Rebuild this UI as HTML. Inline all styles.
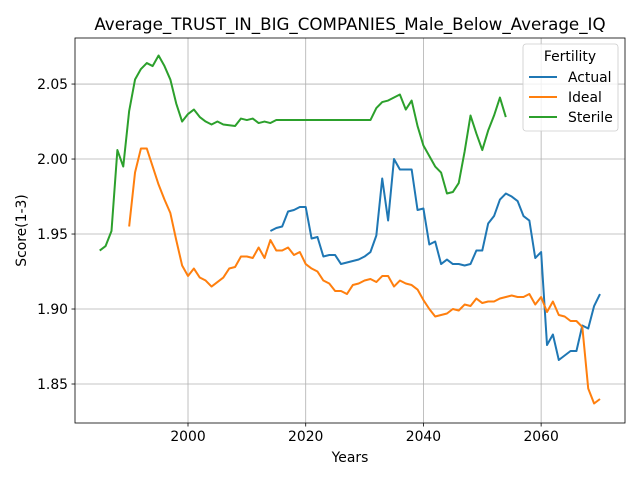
<!DOCTYPE html>
<html><head><meta charset="utf-8"><style>
body{margin:0;background:#fff;font-family:"DejaVu Sans",sans-serif}
svg text{font-family:"DejaVu Sans","Liberation Sans",sans-serif}
</style></head><body>
<svg id="chart" width="640" height="480" xmlns="http://www.w3.org/2000/svg"></svg>
<script>
const actualYears=[2014,2015,2016,2017,2018,2019,2020,2021,2022,2023,2024,2025,2026,2027,2028,2029,2030,2031,2032,2033,2034,2035,2036,2037,2038,2039,2040,2041,2042,2043,2044,2045,2046,2047,2048,2049,2050,2051,2052,2053,2054,2055,2056,2057,2058,2059,2060,2061,2062,2063,2064,2065,2066,2067,2068,2069,2070];
const actualValues=[1.952,1.954,1.955,1.965,1.966,1.968,1.968,1.947,1.948,1.935,1.936,1.936,1.930,1.931,1.932,1.933,1.935,1.938,1.949,1.987,1.959,2.000,1.993,1.993,1.993,1.966,1.967,1.943,1.945,1.930,1.933,1.930,1.930,1.929,1.930,1.939,1.939,1.957,1.962,1.973,1.977,1.975,1.972,1.962,1.959,1.934,1.938,1.876,1.883,1.866,1.869,1.872,1.872,1.889,1.887,1.902,1.910];
const idealStart=1990;
const idealValues=[1.955,1.991,2.007,2.007,1.995,1.983,1.973,1.964,1.946,1.929,1.922,1.927,1.921,1.919,1.915,1.918,1.921,1.927,1.928,1.935,1.935,1.934,1.941,1.934,1.946,1.939,1.939,1.941,1.936,1.938,1.930,1.927,1.925,1.919,1.917,1.912,1.912,1.910,1.916,1.917,1.919,1.920,1.918,1.922,1.922,1.915,1.919,1.917,1.916,1.913,1.906,1.900,1.895,1.896,1.897,1.900,1.899,1.903,1.902,1.907,1.904,1.905,1.905,1.907,1.908,1.909,1.908,1.908,1.910,1.903,1.908,1.898,1.905,1.896,1.895,1.892,1.892,1.888,1.847,1.837,1.840];
const sterileStart=1985;
const sterileValues=[1.939,1.942,1.952,2.006,1.995,2.032,2.053,2.060,2.064,2.062,2.069,2.062,2.053,2.037,2.025,2.030,2.033,2.028,2.025,2.023,2.025,2.023,2.0225,2.022,2.027,2.026,2.027,2.024,2.025,2.024,2.026,2.026,2.026,2.026,2.026,2.026,2.026,2.026,2.026,2.026,2.026,2.026,2.026,2.026,2.026,2.026,2.026,2.034,2.038,2.039,2.041,2.043,2.033,2.039,2.022,2.009,2.002,1.995,1.991,1.977,1.978,1.984,2.005,2.029,2.017,2.006,2.019,2.029,2.041,2.028];
const xTicks=[2000,2020,2040,2060];
const yTicks=[1.85,1.90,1.95,2.00,2.05];

const NS="http://www.w3.org/2000/svg";
const svg=document.getElementById('chart');
const L=75,R=625,T=38,B=423;
const xMin=1980.8,xMax=2074.25,yMin=1.824,yMax=2.0807;
const xs=v=>L+(v-xMin)/(xMax-xMin)*(R-L);
const ys=v=>B-(v-yMin)/(yMax-yMin)*(B-T);
function mk(tag,attrs,parent){const e=document.createElementNS(NS,tag);for(const k in attrs)e.setAttribute(k,attrs[k]);(parent||svg).appendChild(e);return e;}
const grid=mk('g',{});


xTicks.forEach(t=>{
  const X=xs(t);
  mk('line',{x1:X,x2:X,y1:T,y2:B,stroke:'#b0b0b0','stroke-width':0.8},grid);
  mk('line',{x1:X,x2:X,y1:B,y2:B+3.5,stroke:'#000','stroke-width':0.8});
  const tx=mk('text',{x:X,y:B+18,'text-anchor':'middle','font-size':13.9});
  tx.textContent=t;
  
  
});
yTicks.forEach(t=>{
  const Y=ys(t);
  mk('line',{x1:L,x2:R,y1:Y,y2:Y,stroke:'#b0b0b0','stroke-width':0.8},grid);
  mk('line',{x1:L-3.5,x2:L,y1:Y,y2:Y,stroke:'#000','stroke-width':0.8});
  const tx=mk('text',{x:L-7,y:Y+5,'text-anchor':'end','font-size':13.9});
  tx.textContent=t.toFixed(2);
  
  
});
function series(xsArr,vals,color,name){
  const pts=vals.map((v,i)=>xs(xsArr[i]).toFixed(2)+','+ys(v).toFixed(2)).join(' ');
  const p=mk('polyline',{points:pts,fill:'none',stroke:color,'stroke-width':2,'stroke-linejoin':'round'});
  
  
}
series(actualYears,actualValues,'#1f77b4','actual-line');
series(idealValues.map((_,i)=>idealStart+i),idealValues,'#ff7f0e','ideal-line');
series(sterileValues.map((_,i)=>sterileStart+i),sterileValues,'#2ca02c','sterile-line');
const frame=mk('rect',{x:L,y:T,width:R-L,height:B-T,fill:'none',stroke:'#000','stroke-width':0.8});


const title=mk('text',{x:(L+R)/2,y:30,'text-anchor':'middle','font-size':16.7});
title.textContent='Average_TRUST_IN_BIG_COMPANIES_Male_Below_Average_IQ';


const xl=mk('text',{x:(L+R)/2,y:462,'text-anchor':'middle','font-size':13.9});
xl.textContent='Years';


const yl=mk('text',{x:26,y:(T+B)/2,'text-anchor':'middle','font-size':13.9,transform:'rotate(-90 26 '+(T+B)/2+')'});
yl.textContent='Score(1-3)';


const lg=mk('g',{});


mk('rect',{x:523,y:44,width:95,height:87,rx:3,fill:'#fff','fill-opacity':0.8,stroke:'#ccc','stroke-width':0.8},lg);
const lt=mk('text',{x:570,y:61,'text-anchor':'middle','font-size':13.9},lg);
lt.textContent='Fertility';
[['Actual','#1f77b4'],['Ideal','#ff7f0e'],['Sterile','#2ca02c']].forEach((e,i)=>{
  const y=77+i*20;
  const g=mk('g',{},lg);
  
  
  mk('line',{x1:529,x2:557,y1:y,y2:y,stroke:e[1],'stroke-width':2},g);
  const t=mk('text',{x:568,y:y+5,'font-size':13.9},g);
  t.textContent=e[0];
});
</script>
</body></html>
